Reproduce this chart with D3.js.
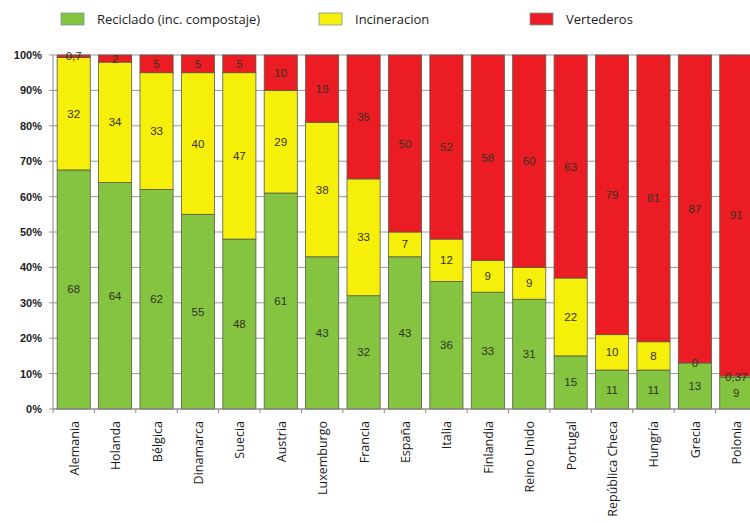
<!DOCTYPE html>
<html>
<head>
<meta charset="utf-8">
<script src="https://cdn.jsdelivr.net/npm/d3@7"></script>
<style>
  body { margin: 0; background: #fff; }
  svg { display: block; }
</style>
</head>
<body>
<svg id="chart" width="750" height="523"></svg>
<script>
// paises y porcentajes
var paises = ["Alemania", "Holanda", "Bélgica", "Dinamarca", "Suecia", "Austria", "Luxemburgo",
  "Francia", "España", "Italia", "Finlandia", "Reino Unido", "Portugal", "República Checa",
  "Hungría", "Grecia", "Polonia"];
var reciclado = [68, 64, 62, 55, 48, 61, 43, 32, 43, 36, 33, 31, 15, 11, 11, 13, 9];
var incineracion = [32, 34, 33, 40, 47, 29, 38, 33, 7, 12, 9, 9, 22, 10, 8, 0, 0.37];
var vertederos = [0.7, 2, 5, 5, 5, 10, 19, 35, 50, 52, 58, 60, 63, 79, 81, 87, 91];
var series = ["Reciclado (inc. compostaje)", "Incineracion", "Vertederos"];
var colores = ["#84c441", "#f5ef0a", "#ec1c24"];
var yTicks = [0, 10, 20, 30, 40, 50, 60, 70, 80, 90, 100];

var svg = d3.select("#chart");
var margin = {top: 55, left: 53, bottom: 409, right: 757};

// 100% apilado
var rows = paises.map(function(p, i){
  var vals = [reciclado[i], incineracion[i], vertederos[i]];
  var total = d3.sum(vals);
  return {pais: p, vals: vals, total: total};
});

var x = d3.scaleBand()
  .domain(paises)
  .range([margin.left, margin.right])
  .paddingInner(0.2)
  .paddingOuter(0.1);

var y = d3.scaleLinear()
  .domain([0, 100])
  .range([margin.bottom, margin.top]);

//grid
svg.append("g")
  .selectAll("line")
  .data(yTicks)
  .enter()
  .append("line")
  .attr("x1", margin.left - 4)
  .attr("x2", margin.right)
  .attr("y1", d => y(d))
  .attr("y2", d => y(d))
  .attr("stroke", "#9a9a9a")
  .attr("stroke-width", 1);

// y labels
svg.append("g")
  .selectAll("text")
  .data(yTicks)
  .enter()
  .append("text")
  .attr("x", 42)
  .attr("y", d => y(d) + 4)
  .attr("text-anchor", "end")
  .attr("font-family", "Liberation Sans, Arial, sans-serif")
  .attr("font-weight", "bold")
  .attr("font-size", 11)
  .attr("fill", "#222")
  .text(d => d + "%");

// bars
var segs = [];
rows.forEach(function(r){
  var acc = 0;
  r.vals.forEach(function(v, k){
    var y0 = acc / r.total * 100;
    acc += v;
    var y1 = acc / r.total * 100;
    segs.push({pais: r.pais, k: k, v: v, y0: y0, y1: y1});
  });
});

svg.append("g")
  .selectAll("rect")
  .data(segs)
  .enter()
  .append("rect")
  .attr("x", d => x(d.pais))
  .attr("width", x.bandwidth())
  .attr("y", d => y(d.y1))
  .attr("height", d => y(d.y0) - y(d.y1))
  .attr("fill", d => colores[d.k])
  .attr("stroke", "#5a5a4a")
  .attr("stroke-width", 0.8);

// labels de valores
svg.append("g")
  .selectAll("text")
  .data(segs)
  .enter()
  .append("text")
  .attr("x", d => x(d.pais) + x.bandwidth() / 2)
  .attr("y", d => (y(d.y0) + y(d.y1)) / 2 + 4)
  .attr("text-anchor", "middle")
  .attr("font-family", "Liberation Sans, Arial, sans-serif")
  .attr("font-size", 11.5)
  .attr("fill", "#33331f")
  .text(d => String(d.v).replace(".", ","));

// axis lines
svg.append("line")
  .attr("x1", margin.left).attr("x2", margin.left)
  .attr("y1", y(100)).attr("y2", y(0))
  .attr("stroke", "#8a8a8a");
svg.append("line")
  .attr("x1", margin.left).attr("x2", margin.right)
  .attr("y1", y(0)).attr("y2", y(0))
  .attr("stroke", "#8a8a8a");

// ticks between categories
var step = x.step();
var x0 = x(paises[0]) - step * x.paddingInner() / 2;
svg.append("g")
  .selectAll("line")
  .data(d3.range(paises.length + 1))
  .enter()
  .append("line")
  .attr("x1", i => i == 0 ? margin.left : x0 + i * step)
  .attr("x2", i => i == 0 ? margin.left : x0 + i * step)
  .attr("y1", y(0))
  .attr("y2", y(0) + 4)
  .attr("stroke", "#8a8a8a");

// category labels
svg.append("g")
  .selectAll("text")
  .data(paises)
  .enter()
  .append("text")
  .attr("transform", d => "translate(" + (x(d) + x.bandwidth() / 2 + 5) + "," + (y(0) + 12) + ") rotate(-90)")
  .attr("text-anchor", "end")
  .attr("font-family", "Open Sans, sans-serif")
  .attr("font-size", 12.5)
  .attr("fill", "#1a1a1a")
  .text(d => d);

// legend
var legX = [61, 319, 530];
var leg = svg.append("g")
  .selectAll("g")
  .data(series)
  .enter()
  .append("g")
  .attr("transform", (d, i) => "translate(" + legX[i] + ",13)");
leg.append("rect")
  .attr("width", 23)
  .attr("height", 12)
  .attr("fill", (d, i) => colores[i])
  .attr("stroke", "#7a9a9a")
  .attr("stroke-width", 0.8);
leg.append("text")
  .attr("x", 36)
  .attr("y", 11)
  .attr("font-family", "Open Sans, sans-serif")
  .attr("font-size", 13)
  .attr("fill", "#222")
  .text(d => d);
</script>
</body>
</html>
